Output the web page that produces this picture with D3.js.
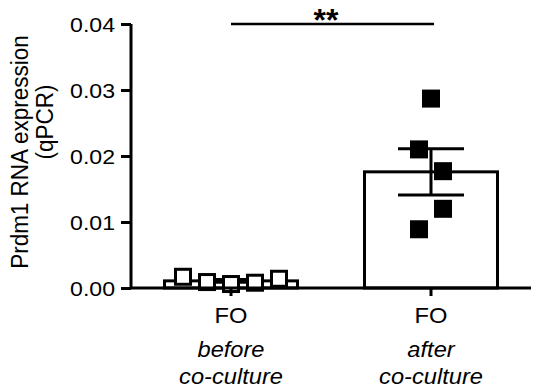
<!DOCTYPE html>
<html lang="en">
<head>
<meta charset="UTF-8">
<title>Prdm1 RNA expression</title>
<script src="https://d3js.org/d3.v7.min.js"></script>
<style>
  body { margin: 0; background: #fff; }
  svg text { font-family: Arial, "Liberation Sans", Helvetica, sans-serif; fill: #000; }
</style>
</head>
<body>
<svg width="536" height="391"></svg>
<script>
// groups and values
var groups = ["before", "after"];
var groupLine1 = ["FO", "FO"];
var groupLine2 = ["before", "after"];
var groupLine3 = ["co-culture", "co-culture"];
var means = [0.00108, 0.0176];
var sems = [0.0002, 0.0035];
var beforePoints = [0.0017, 0.0009, 0.0006, 0.0008, 0.0014];
var afterPoints = [0.0287, 0.0210, 0.0177, 0.0120, 0.0089];
// horizontal offsets of points (px) inside each group
var beforeOffsets = [-48, -24, 0, 24, 48];
var afterOffsets = [0, -12, 12, 12, -12];
var yTicks = [0, 0.01, 0.02, 0.03, 0.04];

var svg = d3.select("svg");

var x = d3.scaleBand().domain(groups).range([131, 531]).padding(0);
var y = d3.scaleLinear().domain([0, 0.04]).range([288, 24]);

var bw = 133;
function cx(g) { return x(g) + x.bandwidth() / 2; }

// bars
svg.append("g").selectAll("rect")
  .data(groups)
  .enter().append("rect")
  .attr("x", function (d) { return cx(d) - bw / 2; })
  .attr("y", function (d, i) { return y(means[i]); })
  .attr("width", bw)
  .attr("height", function (d, i) { return y(0) - y(means[i]); })
  .attr("fill", "#fff")
  .attr("stroke", "#000")
  .attr("stroke-width", 3);

// error bars
var eb = svg.append("g").attr("stroke", "#000").attr("stroke-width", 3);
groups.forEach(function (g, i) {
  var c = cx(g);
  eb.append("line").attr("x1", c).attr("x2", c)
    .attr("y1", y(means[i] + sems[i])).attr("y2", y(means[i] - sems[i]));
  [means[i] + sems[i], means[i] - sems[i]].forEach(function (v) {
    eb.append("line").attr("x1", c - 33).attr("x2", c + 33)
      .attr("y1", y(v)).attr("y2", y(v));
  });
});

// points
var sq = 18;
svg.append("g").selectAll("rect")
  .data(beforePoints)
  .enter().append("rect")
  .attr("x", function (d, i) { return cx("before") + beforeOffsets[i] - sq / 2 + 1.5; })
  .attr("y", function (d) { return y(d) - sq / 2 + 1.5; })
  .attr("width", sq - 3).attr("height", sq - 3)
  .attr("fill", "#fff").attr("stroke", "#000").attr("stroke-width", 3);

svg.append("g").selectAll("rect")
  .data(afterPoints)
  .enter().append("rect")
  .attr("x", function (d, i) { return cx("after") + afterOffsets[i] - sq / 2; })
  .attr("y", function (d) { return y(d) - sq / 2; })
  .attr("width", sq).attr("height", sq)
  .attr("fill", "#000");

// y axis
var yAxis = svg.append("g")
  .attr("transform", "translate(131,0)")
  .call(d3.axisLeft(y).tickValues(yTicks).tickFormat(d3.format(".2f")).tickSize(10).tickPadding(4.5));
yAxis.select(".domain").attr("stroke-width", 3).attr("d", "M0," + y(0.04) + "V" + y(0));
yAxis.selectAll(".tick line").attr("stroke-width", 3);
yAxis.selectAll(".tick text").attr("font-size", 21).attr("dy", "0.35em")
  .attr("transform", "scale(1.1,1)")
  .style("font-family", "Arial, 'Liberation Sans', sans-serif");

// x axis
var xAxis = svg.append("g")
  .attr("transform", "translate(0,288)")
  .call(d3.axisBottom(x).tickSize(8).tickFormat(""));
xAxis.select(".domain").attr("stroke-width", 3).attr("d", "M131,0H531");
xAxis.selectAll(".tick line").attr("stroke-width", 3);

// category labels
function label(txt, xx, yy, size, italic) {
  svg.append("text")
    .attr("transform", "translate(" + xx + "," + yy + ") scale(1.1,1)")
    .attr("text-anchor", "middle")
    .attr("font-size", size)
    .attr("font-style", italic ? "italic" : "normal")
    .text(txt);
}
groups.forEach(function (g, i) {
  label(groupLine1[i], cx(g), 323, 21.5, false);
  label(groupLine2[i], cx(g), 357, 21.5, true);
  label(groupLine3[i], cx(g), 384, 21.5, true);
});

// y label
svg.append("text")
  .attr("transform", "translate(28,152) rotate(-90) scale(1,1.1)")
  .attr("text-anchor", "middle")
  .attr("font-size", 22.5)
  .text("Prdm1 RNA expression");
svg.append("text")
  .attr("transform", "translate(53,122) rotate(-90) scale(1,1.1)")
  .attr("text-anchor", "middle")
  .attr("font-size", 22.5)
  .text("(qPCR)");

// significance bracket
svg.append("line")
  .attr("x1", cx("before")).attr("x2", cx("after") + 3)
  .attr("y1", 24).attr("y2", 24)
  .attr("stroke", "#000").attr("stroke-width", 2.5);
svg.append("text")
  .attr("x", 326).attr("y", 31)
  .attr("text-anchor", "middle").attr("font-size", 32).attr("font-weight", "bold")
  .text("**");
</script>
</body>
</html>
